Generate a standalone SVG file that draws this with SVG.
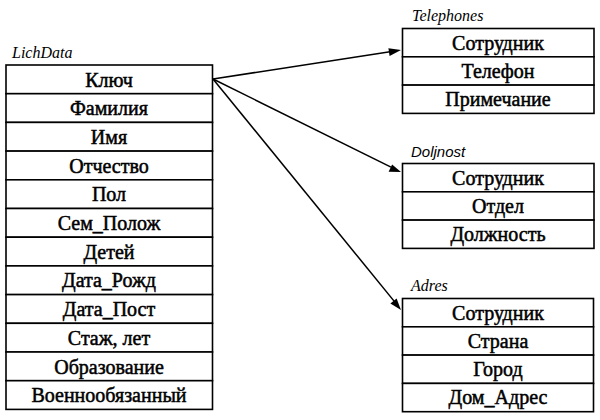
<svg xmlns="http://www.w3.org/2000/svg" width="600" height="420" viewBox="0 0 600 420">
<rect width="600" height="420" fill="#fff"/>

<g id="LichData">
<text font-family="Liberation Serif" font-style="italic" font-size="16" x="12" y="58">LichData</text>
<g fill="#fff" stroke="#000" stroke-width="1.6">
<rect x="6" y="65" width="206.5" height="28.7"/>
<rect x="6" y="93.7" width="206.5" height="28.7"/>
<rect x="6" y="122.4" width="206.5" height="28.7"/>
<rect x="6" y="151.1" width="206.5" height="28.7"/>
<rect x="6" y="179.8" width="206.5" height="28.7"/>
<rect x="6" y="208.5" width="206.5" height="28.7"/>
<rect x="6" y="237.2" width="206.5" height="28.7"/>
<rect x="6" y="265.9" width="206.5" height="28.7"/>
<rect x="6" y="294.6" width="206.5" height="28.7"/>
<rect x="6" y="323.3" width="206.5" height="28.7"/>
<rect x="6" y="352" width="206.5" height="28.7"/>
<rect x="6" y="380.7" width="206.5" height="28.7"/>
</g>
<text font-family="Liberation Serif" font-size="20" text-anchor="middle" stroke="#000" stroke-width="0.5" x="109" y="86.5">Ключ</text>
<text font-family="Liberation Serif" font-size="20" text-anchor="middle" stroke="#000" stroke-width="0.5" x="109" y="115.2">Фамилия</text>
<text font-family="Liberation Serif" font-size="20" text-anchor="middle" stroke="#000" stroke-width="0.5" x="109" y="143.9">Имя</text>
<text font-family="Liberation Serif" font-size="20" text-anchor="middle" stroke="#000" stroke-width="0.5" x="109" y="172.6">Отчество</text>
<text font-family="Liberation Serif" font-size="20" text-anchor="middle" stroke="#000" stroke-width="0.5" x="109" y="201.3">Пол</text>
<text font-family="Liberation Serif" font-size="20" text-anchor="middle" stroke="#000" stroke-width="0.5" x="109" y="230">Сем_Полож</text>
<text font-family="Liberation Serif" font-size="20" text-anchor="middle" stroke="#000" stroke-width="0.5" x="109" y="258.7">Детей</text>
<text font-family="Liberation Serif" font-size="20" text-anchor="middle" stroke="#000" stroke-width="0.5" x="109" y="287.4">Дата_Рожд</text>
<text font-family="Liberation Serif" font-size="20" text-anchor="middle" stroke="#000" stroke-width="0.5" x="109" y="316.1">Дата_Пост</text>
<text font-family="Liberation Serif" font-size="20" text-anchor="middle" stroke="#000" stroke-width="0.5" x="109" y="344.8">Стаж, лет</text>
<text font-family="Liberation Serif" font-size="20" text-anchor="middle" stroke="#000" stroke-width="0.5" x="109" y="373.5">Образование</text>
<text font-family="Liberation Serif" font-size="20" text-anchor="middle" stroke="#000" stroke-width="0.5" x="109" y="402.2">Военнообязанный</text>
</g>

<g id="Telephones">
<text font-family="Liberation Serif" font-style="italic" font-size="16" x="412" y="21">Telephones</text>
<g fill="#fff" stroke="#000" stroke-width="1.6">
<rect x="402.5" y="28.5" width="191.5" height="28.3"/>
<rect x="402.5" y="56.8" width="191.5" height="28.3"/>
<rect x="402.5" y="85.1" width="191.5" height="28.3"/>
</g>
<text font-family="Liberation Serif" font-size="20" text-anchor="middle" stroke="#000" stroke-width="0.5" x="498" y="49.5">Сотрудник</text>
<text font-family="Liberation Serif" font-size="20" text-anchor="middle" stroke="#000" stroke-width="0.5" x="498" y="77.8">Телефон</text>
<text font-family="Liberation Serif" font-size="20" text-anchor="middle" stroke="#000" stroke-width="0.5" x="498" y="106.1">Примечание</text>
</g>

<g id="Doljnost">
<text font-family="Liberation Sans" font-style="italic" font-size="15" x="411" y="157">Doljnost</text>
<g fill="#fff" stroke="#000" stroke-width="1.6">
<rect x="402.5" y="163.5" width="191.5" height="28.3"/>
<rect x="402.5" y="191.8" width="191.5" height="28.3"/>
<rect x="402.5" y="220.1" width="191.5" height="28.3"/>
</g>
<text font-family="Liberation Serif" font-size="20" text-anchor="middle" stroke="#000" stroke-width="0.5" x="498" y="184.5">Сотрудник</text>
<text font-family="Liberation Serif" font-size="20" text-anchor="middle" stroke="#000" stroke-width="0.5" x="498" y="212.8">Отдел</text>
<text font-family="Liberation Serif" font-size="20" text-anchor="middle" stroke="#000" stroke-width="0.5" x="498" y="241.1">Должность</text>
</g>

<g id="Adres">
<text font-family="Liberation Serif" font-style="italic" font-size="16" x="411" y="291">Adres</text>
<g fill="#fff" stroke="#000" stroke-width="1.6">
<rect x="402.5" y="298.5" width="191" height="28.3"/>
<rect x="402.5" y="326.8" width="191" height="28.3"/>
<rect x="402.5" y="355.1" width="191" height="28.3"/>
<rect x="402.5" y="383.4" width="191" height="28.3"/>
</g>
<text font-family="Liberation Serif" font-size="20" text-anchor="middle" stroke="#000" stroke-width="0.5" x="498" y="319.5">Сотрудник</text>
<text font-family="Liberation Serif" font-size="20" text-anchor="middle" stroke="#000" stroke-width="0.5" x="498" y="347.8">Страна</text>
<text font-family="Liberation Serif" font-size="20" text-anchor="middle" stroke="#000" stroke-width="0.5" x="498" y="376.1">Город</text>
<text font-family="Liberation Serif" font-size="20" text-anchor="middle" stroke="#000" stroke-width="0.5" x="498" y="404.4">Дом_Адрес</text>
</g>

<g id="connectors">
<g stroke="#000" stroke-width="1.5" fill="none">
<line x1="213" y1="79" x2="390" y2="51.7"/>
<line x1="213" y1="79" x2="391" y2="167.1"/>
<line x1="213" y1="79" x2="394.5" y2="301.6"/>
</g>
<g fill="#000">
<polygon points="401,50 389.6,56.1 388.4,48.2"/>
<polygon points="401,172 388.6,171.8 392.1,164.6"/>
<polygon points="401,310 390.4,303.5 396.6,298.4"/>
</g>
</g>
</svg>
